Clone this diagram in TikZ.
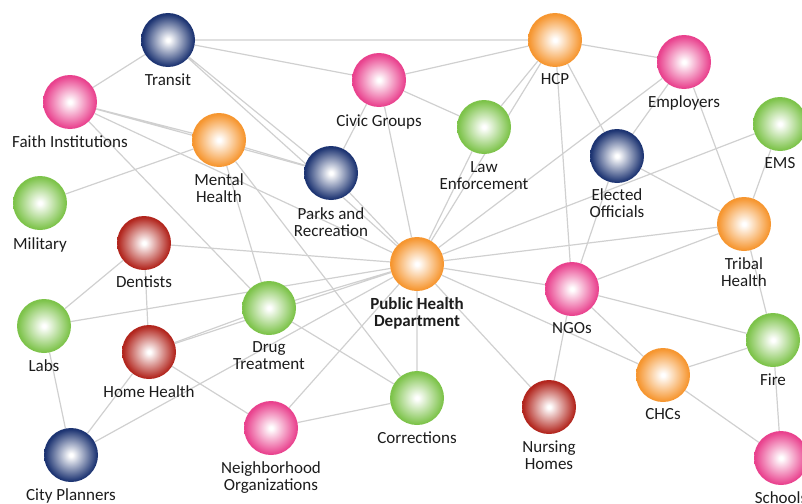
\documentclass[tikz,border=0pt]{standalone}
\usepackage{fontspec}
\setmainfont{Carlito}
\usepackage{tikz}
\usetikzlibrary{positioning, backgrounds}
\usepackage{color}
\definecolor{ball_pink}{RGB}{233,66,142}
\definecolor{ball_blue}{RGB}{29,52,114}
\definecolor{ball_orange}{RGB}{246,150,48}
\definecolor{ball_green}{RGB}{125,195,74}
\definecolor{ball_red}{RGB}{178,38,30}
\definecolor{edge_grey}{RGB}{208,208,208}
\definecolor{label_black}{RGB}{28,28,28}

% sphere look: white centre, full colour at the rim (rim = 25bp)
\pgfdeclareradialshading{pinkball}{\pgfpointorigin}{color(0bp)=(white); color(1.5bp)=(white); color(24bp)=(ball_pink); color(25bp)=(ball_pink); color(50bp)=(ball_pink)}
\pgfdeclareradialshading{blueball}{\pgfpointorigin}{color(0bp)=(white); color(1.5bp)=(white); color(24bp)=(ball_blue); color(25bp)=(ball_blue); color(50bp)=(ball_blue)}
\pgfdeclareradialshading{orangeball}{\pgfpointorigin}{color(0bp)=(white); color(1.5bp)=(white); color(24bp)=(ball_orange); color(25bp)=(ball_orange); color(50bp)=(ball_orange)}
\pgfdeclareradialshading{greenball}{\pgfpointorigin}{color(0bp)=(white); color(1.5bp)=(white); color(24bp)=(ball_green); color(25bp)=(ball_green); color(50bp)=(ball_green)}
\pgfdeclareradialshading{redball}{\pgfpointorigin}{color(0bp)=(white); color(1.5bp)=(white); color(24bp)=(ball_red); color(25bp)=(ball_red); color(50bp)=(ball_red)}

\tikzset{
	ball/.style={circle, minimum size=54pt, inner sep=0pt},
	pink_ball/.style={ball, shading=pinkball},
	blue_ball/.style={ball, shading=blueball},
	orange_ball/.style={ball, shading=orangeball},
	green_ball/.style={ball, shading=greenball},
	red_ball/.style={ball, shading=redball},
	tag/.style={align=center, inner sep=0pt, text=label_black, font=\fontsize{17}{17.5}\selectfont},
	link/.style={draw=edge_grey, line width=1.2pt}
}

\begin{document}
\begin{tikzpicture}[x=1pt, y=-1pt]
			\useasboundingbox (0,0) rectangle (802,503);
			\clip (0,0) rectangle (802,503);

			% --- Begin Top Row ---
			\node [blue_ball] (Transit) at (168,40) {};
			\node [tag, below=6pt of Transit] (transit_label) {Transit};
			\node [pink_ball] (FaithInstitutions) at (70,102) {};
			\node [tag, below=6pt of FaithInstitutions] (faith_label) {Faith Institutions};
			\node [pink_ball] (CivicGroups) at (379,80) {};
			\node [tag, below=7pt of CivicGroups] (civic_label) {Civic Groups};
			\node [orange_ball] (HCP) at (555,40) {};
			\node [tag, below=6pt of HCP] (hcp_label) {HCP};
			\node [pink_ball] (Employers) at (684,62) {};
			\node [tag, below=6pt of Employers] (employers_label) {Employers};
			\node [green_ball] (LawEnforcement) at (484,127) {};
			\node [tag, below=7pt of LawEnforcement] (law_label) {Law\\Enforcement};
			\node [blue_ball] (ElectedOfficials) at (617,156) {};
			\node [tag, below=5pt of ElectedOfficials] (elected_label) {Elected\\Officials};
			\node [green_ball] (EMS) at (780,124) {};
			\node [tag, below=6pt of EMS] (ems_label) {EMS};
			% --- End Top Row ---

			% --- Begin Middle Row ---
			\node [orange_ball] (MentalHealth) at (219,140) {};
			\node [tag, below=6pt of MentalHealth] (mental_label) {Mental\\Health};
			\node [blue_ball] (ParksRecreation) at (331,173) {};
			\node [tag, below=7pt of ParksRecreation] (parks_label) {Parks and\\Recreation};
			\node [green_ball] (Military) at (40,203) {};
			\node [tag, below=7pt of Military] (military_label) {Military};
			\node [red_ball] (Dentists) at (144,243) {};
			\node [tag, below=5pt of Dentists] (dentists_label) {Dentists};
			\node [orange_ball] (PublicHealth) at (417,264) {};
			\node [tag, below=6pt of PublicHealth, font=\fontsize{17}{17.5}\selectfont\bfseries] (public_health_label) {Public Health\\Department};
			\node [orange_ball] (TribalHealth) at (744,224) {};
			\node [tag, below=6pt of TribalHealth] (tribal_label) {Tribal\\Health};
			\node [pink_ball] (NGOs) at (572,289) {};
			\node [tag, below=6pt of NGOs] (ngos_label) {NGOs};
			% --- End Middle Row ---

			% --- Begin Bottom Row ---
			\node [green_ball] (Labs) at (44,326) {};
			\node [tag, below=6pt of Labs] (labs_label) {Labs};
			\node [green_ball] (DrugTreatment) at (269,308) {};
			\node [tag, below=6pt of DrugTreatment] (drug_label) {Drug\\Treatment};
			\node [red_ball] (HomeHealth) at (149,352) {};
			\node [tag, below=6pt of HomeHealth] (home_label) {Home Health};
			\node [green_ball] (Fire) at (773,340) {};
			\node [tag, below=6pt of Fire] (fire_label) {Fire};
			\node [orange_ball] (CHCs) at (663,375) {};
			\node [tag, below=6pt of CHCs] (chcs_label) {CHCs};
			\node [green_ball] (Corrections) at (417,398) {};
			\node [tag, below=6pt of Corrections] (corrections_label) {Corrections};
			\node [red_ball] (NursingHomes) at (549,407) {};
			\node [tag, below=6pt of NursingHomes] (nursing_label) {Nursing\\Homes};
			\node [pink_ball] (NeighborhoodOrgs) at (271,428) {};
			\node [tag, below=6pt of NeighborhoodOrgs] (neighborhood_label) {Neighborhood\\Organizations};
			\node [blue_ball] (CityPlanners) at (71,455) {};
			\node [tag, below=6pt of CityPlanners] (planners_label) {City Planners};
			\node [pink_ball] (Schools) at (781,458) {};
			\node [tag, below=6pt of Schools] (schools_label) {Schools};
			% --- End Bottom Row ---

			% Connections go behind the spheres.
			\begin{pgfonlayer}{background}
				\draw [link] (Transit) -- (FaithInstitutions) (Transit) -- (HCP) (Transit) -- (CivicGroups) (Transit) -- (ParksRecreation) (Transit) -- (PublicHealth);
				\draw [link] (FaithInstitutions) -- (MentalHealth) (FaithInstitutions) -- (ParksRecreation) (FaithInstitutions) -- (PublicHealth) (FaithInstitutions) -- (DrugTreatment);
				\draw [link] (CivicGroups) -- (HCP) (CivicGroups) -- (LawEnforcement) (CivicGroups) -- (ParksRecreation) (CivicGroups) -- (PublicHealth);
				\draw [link] (HCP) -- (Employers) (HCP) -- (LawEnforcement) (HCP) -- (PublicHealth) (HCP) -- (ElectedOfficials) (HCP) -- (NGOs);
				\draw [link] (Employers) -- (ElectedOfficials) (Employers) -- (TribalHealth) (Employers) -- (PublicHealth);
				\draw [link] (LawEnforcement) -- (PublicHealth);
				\draw [link] (ElectedOfficials) -- (TribalHealth) (ElectedOfficials) -- (NGOs);
				\draw [link] (EMS) -- (PublicHealth) (EMS) -- (TribalHealth);
				\draw [link] (MentalHealth) -- (Military) (MentalHealth) -- (ParksRecreation) (MentalHealth) -- (DrugTreatment) (MentalHealth) -- (Corrections);
				\draw [link] (ParksRecreation) -- (PublicHealth);
				\draw [link] (Dentists) -- (Labs) (Dentists) -- (HomeHealth) (Dentists) -- (PublicHealth);
				\draw [link] (PublicHealth) -- (TribalHealth) (PublicHealth) -- (NGOs) (PublicHealth) -- (CHCs) (PublicHealth) -- (NursingHomes) (PublicHealth) -- (Corrections);
				\draw [link] (PublicHealth) -- (NeighborhoodOrgs) (PublicHealth) -- (DrugTreatment) (PublicHealth) -- (HomeHealth) (PublicHealth) -- (Labs) (PublicHealth) -- (CityPlanners);
				\draw [link] (TribalHealth) -- (NGOs) (TribalHealth) -- (Fire);
				\draw [link] (NGOs) -- (Fire) (NGOs) -- (CHCs) (NGOs) -- (NursingHomes);
				\draw [link] (Labs) -- (CityPlanners);
				\draw [link] (DrugTreatment) -- (HomeHealth) (DrugTreatment) -- (Corrections);
				\draw [link] (HomeHealth) -- (CityPlanners) (HomeHealth) -- (NeighborhoodOrgs);
				\draw [link] (Fire) -- (CHCs) (Fire) -- (Schools) (CHCs) -- (Schools);
				\draw [link] (Corrections) -- (NeighborhoodOrgs);
			\end{pgfonlayer}
		\end{tikzpicture}
\end{document}
